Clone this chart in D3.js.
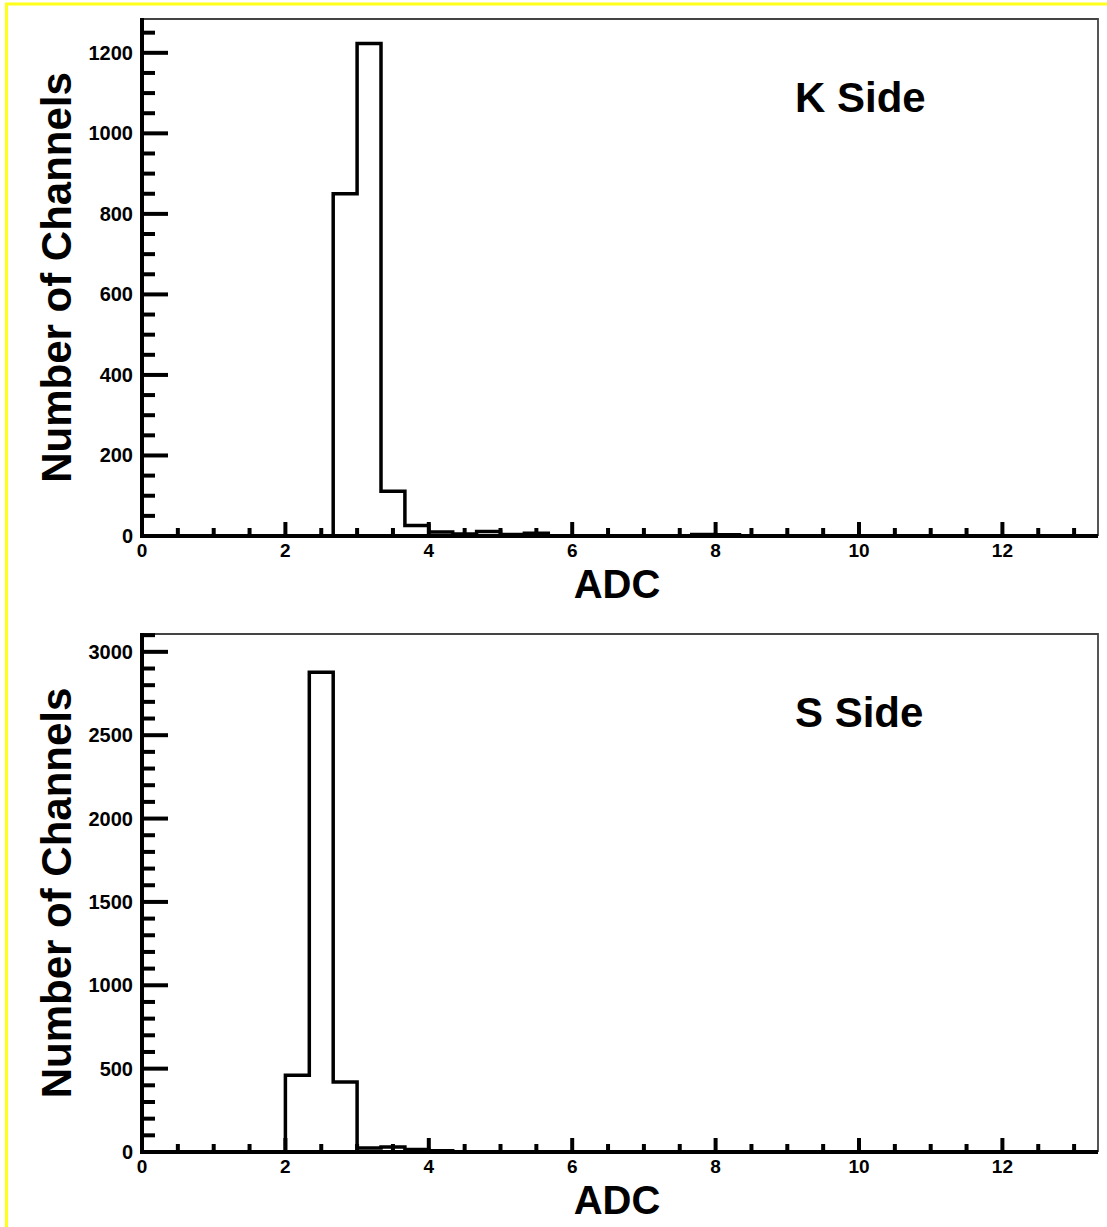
<!DOCTYPE html>
<html>
<head>
<meta charset="utf-8">
<script src="https://cdn.jsdelivr.net/npm/d3@7/dist/d3.min.js"></script>
<style>
  html, body { margin: 0; padding: 0; background: #fff; }
  svg { display: block; }
  text { font-family: "Liberation Sans", Arial, Helvetica, sans-serif; font-weight: bold; fill: #000; }
</style>
</head>
<body>
<svg id="chart" width="1107" height="1227"></svg>
<script>
// ---- data ----
const binWidth = 1 / 3;
const nBins = 40;
const xTickLabels = [0, 2, 4, 6, 8, 10, 12];
// K side: [bin index, count]
const kSideBins = [8, 9, 10, 11, 12, 13, 14, 15, 16, 23, 24];
const kSideCounts = [850, 1223, 111, 26, 10, 5, 11, 4, 7, 4, 3];
const kTickLabels = [0, 200, 400, 600, 800, 1000, 1200];
// S side
const sSideBins = [6, 7, 8, 9, 10, 11, 12];
const sSideCounts = [460, 2878, 420, 24, 30, 15, 8];
const sTickLabels = [0, 500, 1000, 1500, 2000, 2500, 3000];

const panels = [
  { title: "K Side", bins: kSideBins, counts: kSideCounts, yTicks: kTickLabels,
    yMinorStep: 50, yMax: 1284, top: 19, bottom: 536, titleY: 112 },
  { title: "S Side", bins: sSideBins, counts: sSideCounts, yTicks: sTickLabels,
    yMinorStep: 100, yMax: 3107, top: 634, bottom: 1152, titleY: 727 }
];

const svg = d3.select("#chart");
svg.append("rect").attr("width", 1107).attr("height", 1227).attr("fill", "#fff");
// yellow border (top and left)
svg.append("line").attr("x1", 5).attr("x2", 1107).attr("y1", 4).attr("y2", 4)
  .attr("stroke", "#ffff1a").attr("stroke-width", 3);
svg.append("line").attr("x1", 6.5).attr("x2", 6.5).attr("y1", 3).attr("y2", 1227)
  .attr("stroke", "#ffff1a").attr("stroke-width", 3);

const left = 142, right = 1098;
const xMax = nBins * binWidth;

panels.forEach(p => {
  const g = svg.append("g");
  const x = d3.scaleLinear().domain([0, xMax]).range([left, right]);
  const y = d3.scaleLinear().domain([0, p.yMax]).range([p.bottom, p.top]);

  const counts = new Array(nBins).fill(0);
  p.bins.forEach((b, i) => { counts[b] = p.counts[i]; });

  // frame top/right (thin)
  g.append("path")
    .attr("d", `M${left},${p.top}H${right}V${p.bottom}`)
    .attr("fill", "none").attr("stroke", "#444").attr("stroke-width", 1.8);

  // histogram step outline
  let d = `M${x(0)},${y(0)}`;
  counts.forEach((c, i) => {
    d += `V${y(c)}H${x((i + 1) * binWidth)}`;
  });
  d += `V${y(0)}`;
  g.append("path").attr("d", d).attr("fill", "none")
    .attr("stroke", "#000").attr("stroke-width", 3.5).attr("stroke-linejoin", "miter");

  // x axis
  g.append("line").attr("x1", left - 2).attr("x2", right).attr("y1", p.bottom).attr("y2", p.bottom)
    .attr("stroke", "#000").attr("stroke-width", 4);
  const xMinor = d3.range(0, xMax + 1e-9, 0.5);
  xMinor.forEach(v => {
    const major = Math.abs(v / 2 - Math.round(v / 2)) < 1e-9;
    g.append("line").attr("x1", x(v)).attr("x2", x(v))
      .attr("y1", p.bottom).attr("y2", p.bottom - (major ? 14 : 8))
      .attr("stroke", "#000").attr("stroke-width", 4);
  });
  xTickLabels.forEach(v => {
    g.append("text").attr("x", x(v)).attr("y", p.bottom + 21)
      .attr("text-anchor", "middle").attr("font-size", 19).text(v);
  });

  // y axis
  g.append("line").attr("x1", left).attr("x2", left).attr("y1", p.top - 1).attr("y2", p.bottom + 2)
    .attr("stroke", "#000").attr("stroke-width", 4);
  const yMinor = d3.range(0, p.yMax + 1e-9, p.yMinorStep);
  const majorStep = p.yTicks[1] - p.yTicks[0];
  yMinor.forEach(v => {
    const major = Math.abs(v / majorStep - Math.round(v / majorStep)) < 1e-9;
    g.append("line").attr("x1", left).attr("x2", left + (major ? 26 : 13))
      .attr("y1", y(v)).attr("y2", y(v))
      .attr("stroke", "#000").attr("stroke-width", 4);
  });
  p.yTicks.forEach(v => {
    g.append("text").attr("x", 133).attr("y", y(v)).attr("dy", "0.35em")
      .attr("text-anchor", "end").attr("font-size", 20).text(v);
  });

  // axis titles
  g.append("text").attr("x", 617).attr("y", p.bottom + 62)
    .attr("text-anchor", "middle").attr("font-size", 40).text("ADC");
  g.append("text")
    .attr("transform", `translate(71,${(p.top + p.bottom) / 2}) rotate(-90)`)
    .attr("text-anchor", "middle").attr("font-size", 42).text("Number of Channels");

  // panel title
  g.append("text").attr("x", 795).attr("y", p.titleY)
    .attr("font-size", 42).text(p.title);
});
</script>
</body>
</html>
